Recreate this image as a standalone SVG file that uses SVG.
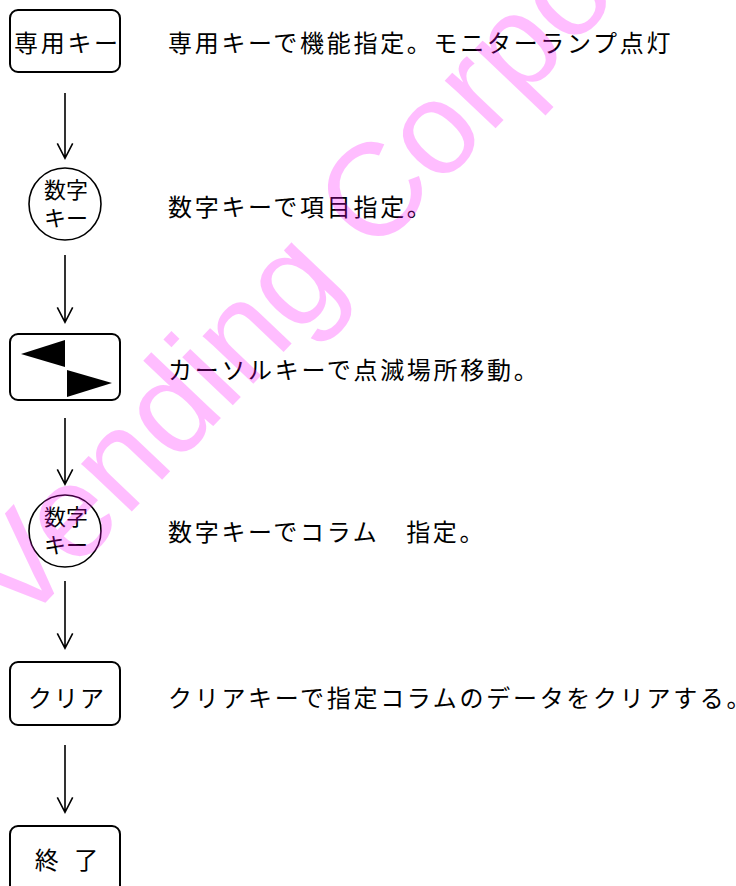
<svg xmlns="http://www.w3.org/2000/svg" width="736" height="886" viewBox="0 0 736 886">
<style>
.box{fill:#fff;stroke:#000;stroke-width:2}
.circ{fill:#fff;stroke:#000;stroke-width:1.6}
.t{font-family:"Noto Sans CJK JP","Noto Sans CJK SC",sans-serif;font-size:24px;fill:#000;letter-spacing:2.7px}
.ct{font-family:"Noto Sans CJK JP","Noto Sans CJK SC",sans-serif;font-size:22px;fill:#000;text-anchor:middle}
.bt{font-family:"Noto Sans CJK JP","Noto Sans CJK SC",sans-serif;font-size:24px;fill:#000;text-anchor:middle}
.ln{stroke:#000;stroke-width:1.6;fill:none}
.wm{font-family:"Liberation Sans",Arial,sans-serif;font-size:132px;fill:#FF00FF;fill-opacity:0.26}
</style>
<rect width="736" height="886" fill="#fff"/>
<g id="connectors">
<path class="ln" d="M65 93V158M57.3 143.3L65 158.3L72.7 143.3"/>
<path class="ln" d="M65 255V322M57.3 307.3L65 322.3L72.7 307.3"/>
<path class="ln" d="M65 418V484M57.3 469.3L65 484.3L72.7 469.3"/>
<path class="ln" d="M65 581V648M57.3 633.3L65 648.3L72.7 633.3"/>
<path class="ln" d="M65 745V812M57.3 797.3L65 812.3L72.7 797.3"/>
</g>
<g id="n1">
<rect class="box" x="10" y="10" width="110" height="62" rx="8"/>
<text class="t" x="14" y="52" letter-spacing="1">専用キー</text>
<text class="t" x="168" y="52">専用キーで機能指定。モニターランプ点灯</text>
</g>
<g id="n2">
<circle class="circ" cx="65" cy="204" r="36"/>
<text class="ct" x="66" y="198">数字</text>
<text class="ct" x="66" y="226">キー</text>
<text class="t" x="168" y="216">数字キーで項目指定。</text>
</g>
<g id="n3">
<rect class="box" x="10" y="334" width="110" height="66" rx="8"/>
<polygon points="21,354 65,340 65,367" fill="#000"/>
<polygon points="67,370 112,383 67,397" fill="#000"/>
<text class="t" x="168" y="379">カーソルキーで点滅場所移動。</text>
</g>
<g id="n4">
<circle class="circ" cx="65" cy="531" r="36"/>
<text class="ct" x="66" y="525">数字</text>
<text class="ct" x="66" y="553">キー</text>
<text class="t" x="168" y="541">数字キーでコラム　指定。</text>
</g>
<g id="n5">
<rect class="box" x="10" y="662" width="110" height="63" rx="8"/>
<text class="bt" x="67" y="707" letter-spacing="2">クリア</text>
<text class="t" x="168" y="707" letter-spacing="2.6">クリアキーで指定コラムのデータをクリアする。</text>
</g>
<g id="n6">
<rect class="box" x="10" y="826" width="110" height="70" rx="8"/>
<text class="bt" x="69" y="869" letter-spacing="5" xml:space="preserve">終 了</text>
</g>
<text class="wm" transform="translate(19.5,630) rotate(-46.5)">Vending Corpo</text>
</svg>
